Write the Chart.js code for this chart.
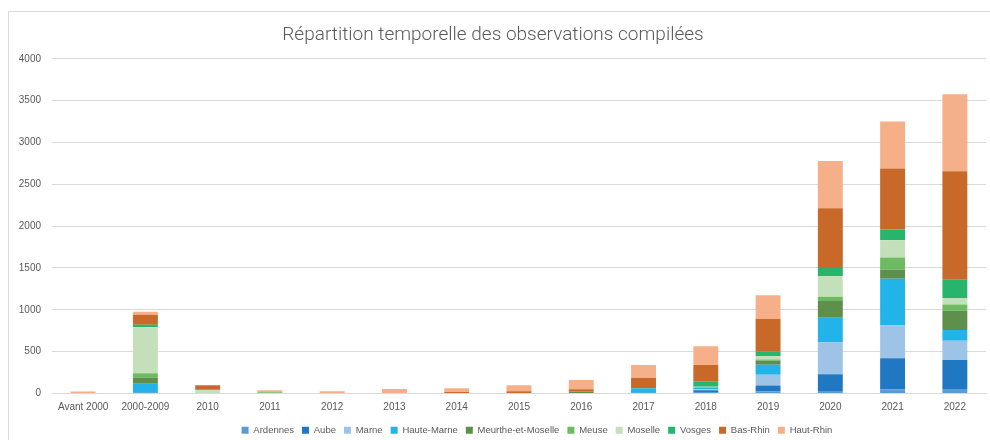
<!DOCTYPE html>
<html lang="fr">
<head>
    <meta charset="UTF-8">
    <title>Répartition temporelle des observations compilées</title>
    <script src="https://cdn.jsdelivr.net/npm/chart.js"></script>
    <style>
        html, body { margin: 0; padding: 0; background: #fff; }
        .frame {
            position: absolute; left: 8px; top: 11px;
            width: 990px; height: 440px;
            border: 1px solid #d9d9d9;
        }
        .chart-box { position: absolute; left: 0; top: 0; width: 990px; height: 440px; }
    </style>
</head>
<body>
    <div class="frame"></div>
    <div class="chart-box"><canvas id="barChart"></canvas></div>

    <script>
        // categories
        const periods = ["Avant 2000", "2000-2009", "2010", "2011", "2012", "2013", "2014", "2015", "2016", "2017", "2018", "2019", "2020", "2021", "2022"];

        // observations per département
        const ardennes       = [0,   0,   0,  0,  0,  0,  0,  0,   0,   0,  10,  25,  30,  50,   55];
        const aube           = [0,  12,   0,  0,  0,  0,  0,  0,   0,  10,  30,  70, 200, 370,  345];
        const marne          = [0,   0,   0,  0,  0,  0,  0,  0,   0,   0,  10, 130, 380, 395,  230];
        const hauteMarne     = [0, 105,   0,  0,  0,  0,  0,  0,   0,  50,  15, 120, 295, 555,  130];
        const meurthe        = [0,  75,   0,  0,  0,  0,  0,  0,  25,   0,   5,  45, 200, 110,  230];
        const meuse          = [0,  50,   5, 15,  0,  0,  0,  0,   0,   0,   5,  15,  50, 145,   75];
        const moselle        = [0, 550,  35,  0,  0,  0,  0,  0,   0,   0,   5,  40, 245, 205,   75];
        const vosges         = [0,  30,  10,  0,  0,  0,  0,  0,   0,   5,  65,  55, 100, 130,  220];
        const basRhin        = [0, 120,  50,  0,  0,  0, 18, 27,  25, 120, 195, 390, 715, 730, 1295];
        const hautRhin       = [25, 35,   0, 25, 28, 55, 45, 72, 110, 155, 225, 285, 565, 560,  920];

        const yTicks = [0, 500, 1000, 1500, 2000, 2500, 3000, 3500, 4000];

        const series = [
            { label: 'Ardennes',           data: ardennes,   color: '#5b9bd5' },
            { label: 'Aube',               data: aube,       color: '#1f78c1' },
            { label: 'Marne',              data: marne,      color: '#9dc3e6' },
            { label: 'Haute-Marne',        data: hauteMarne, color: '#22b3e8' },
            { label: 'Meurthe-et-Moselle', data: meurthe,    color: '#5e8f4b' },
            { label: 'Meuse',              data: meuse,      color: '#6dbb60' },
            { label: 'Moselle',            data: moselle,    color: '#c3e0bb' },
            { label: 'Vosges',             data: vosges,     color: '#27b46b' },
            { label: 'Bas-Rhin',           data: basRhin,    color: '#c8692a' },
            { label: 'Haut-Rhin',          data: hautRhin,   color: '#f5b08a' }
        ];

        // legend sits a bit right of centre and lower in the original
        const nudgeLegend = {
            id: 'nudgeLegend',
            afterLayout(chart) {
                const lg = chart.legend;
                lg.left += 44; lg.right += 44;
                lg.top += 5; lg.bottom += 5;
            }
        };

        const ctx = document.getElementById('barChart').getContext('2d');
        new Chart(ctx, {
            type: 'bar',
            data: {
                labels: periods,
                datasets: series.map(s => ({
                    label: s.label,
                    data: s.data,
                    backgroundColor: s.color,
                    borderWidth: 0,
                    barPercentage: 0.4,
                    categoryPercentage: 1
                }))
            },
            plugins: [nudgeLegend],
            options: {
                responsive: true,
                maintainAspectRatio: false,
                animation: false,
                layout: { padding: { left: 0, right: 4, top: 0, bottom: 0 } },
                plugins: {
                    title: {
                        display: true,
                        text: 'Répartition temporelle des observations compilées',
                        color: '#595959',
                        font: { family: 'Roboto', size: 19, weight: '300' },
                        padding: { top: 24, bottom: 12 }
                    },
                    legend: {
                        position: 'bottom',
                        labels: {
                            color: '#595959',
                            font: { family: 'Liberation Sans', size: 9.5 },
                            boxWidth: 7,
                            boxHeight: 7,
                            padding: 8
                        }
                    },
                    tooltip: { enabled: false }
                },
                scales: {
                    x: {
                        stacked: true,
                        afterFit: axis => { axis.height -= 1; },
                        grid: { display: false },
                        border: { color: '#d9d9d9' },
                        ticks: { color: '#595959', font: { family: 'Liberation Sans', size: 10 }, maxRotation: 0, padding: 0 }
                    },
                    y: {
                        stacked: true,
                        min: 0,
                        max: 4000,
                        afterFit: axis => { axis.width = 52; },
                        afterBuildTicks: axis => { axis.ticks = yTicks.map(v => ({ value: v })); },
                        grid: { color: '#d9d9d9', drawTicks: false },
                        border: { display: false },
                        ticks: {
                            color: '#595959',
                            font: { family: 'Liberation Sans', size: 10 },
                            padding: 11,
                            callback: v => String(v)
                        }
                    }
                }
            }
        });
    </script>
</body>
</html>
